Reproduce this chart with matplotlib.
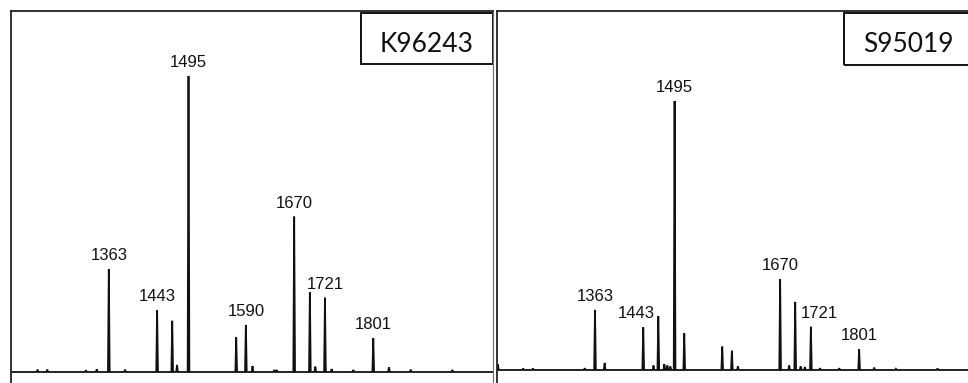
import matplotlib
matplotlib.use("Agg")
import matplotlib.pyplot as plt
from matplotlib.patches import Rectangle
import numpy as np

# sample names
names = ["K96243", "S95019"]

# peak lists (m/z, intensity)
k_mz = [1245, 1261, 1325, 1343, 1363, 1390, 1443, 1468, 1476, 1495, 1574, 1590,
        1601, 1637, 1641, 1670, 1696, 1705, 1721, 1732, 1768, 1801, 1827, 1863, 1932]
k_int = [0.8, 0.8, 0.6, 0.9, 34.8, 0.8, 20.9, 17.3, 2.4, 100, 11.7, 15.9,
         2.0, 0.7, 0.7, 52.5, 26.9, 1.8, 25.1, 1.0, 0.7, 11.4, 1.6, 0.8, 0.7]

s_mz = [1202, 1244, 1260, 1346, 1363, 1379, 1443, 1460, 1468, 1478, 1483, 1488,
        1495, 1511, 1574, 1590, 1600, 1670, 1685, 1695, 1704, 1711, 1721, 1736,
        1768, 1801, 1826, 1862, 1931]
s_int = [2.0, 0.5, 0.5, 0.6, 20.3, 2.4, 14.4, 1.5, 18.2, 2.0, 1.5, 1.2,
         90.9, 12.4, 7.9, 6.5, 1.2, 30.6, 1.5, 23.0, 1.2, 1.0, 14.6, 0.6,
         0.6, 7.0, 0.8, 0.4, 0.5]

# labelled peaks
k_labels = [1363, 1443, 1495, 1590, 1670, 1721, 1801]
s_labels = [1363, 1443, 1495, 1670, 1721, 1801]

W, H = 968, 383
fig = plt.figure(figsize=(W / 100, H / 100), dpi=100)
ax1 = fig.add_axes([11 / W, 0, (493 - 11) / W, (383 - 11) / H])
ax2 = fig.add_axes([497 / W, 0, (969 - 497) / W, (383 - 11) / H])


def draw_spectrum(ax, mz, inten, labels, xlim, ylim, nudge):
    # each peak drawn as a narrow triangle on a flat baseline
    hw = 1.4
    xs = [xlim[0]]
    ys = [0]
    for m, h in zip(mz, inten):
        xs += [m - hw, m, m + hw]
        ys += [0, h, 0]
    xs.append(xlim[1])
    ys.append(0)
    ax.plot(xs, ys, color="#111111", lw=1.3, solid_joinstyle="miter")

    lookup = dict(zip(mz, inten))
    for m in labels:
        dx = nudge.get(m, 0)
        ax.annotate(str(m), xy=(m, lookup[m]), xytext=(dx, 6.5),
                    textcoords="offset points", ha="center", va="baseline",
                    fontsize=12, family="Liberation Sans", color="#111111")

    ax.set_xlim(*xlim)
    ax.set_ylim(*ylim)
    ax.set_xticks([])
    ax.set_yticks([])
    ax.spines["bottom"].set_visible(False)
    for s in ["top", "left"]:
        ax.spines[s].set_color("#222222")
        ax.spines[s].set_linewidth(1.3)


draw_spectrum(ax1, k_mz, k_int, k_labels, (1201, 1999.3), (-3.72, 121.96), {})
draw_spectrum(ax2, s_mz, s_int, s_labels, (1200.5, 1983.2), (-4.4, 121.3),
              {1443: -5, 1721: 6})

ax1.spines["right"].set_color("#777777")
ax1.spines["right"].set_linewidth(0.9)
ax2.spines["right"].set_visible(False)

# sample name boxes
ax1.add_patch(Rectangle((0.726, 0.8575), 0.274, 0.137, transform=ax1.transAxes,
                        fill=False, lw=1.4, ec="#111111", clip_on=False))
ax1.text(0.862, 0.8898, names[0], transform=ax1.transAxes, ha="center",
         va="baseline", fontsize=19, family="Lato", color="#111111")

ax2.add_patch(Rectangle((0.735, 0.8548), 0.3, 0.14, transform=ax2.transAxes,
                        fill=False, lw=1.4, ec="#111111", clip_on=False))
ax2.text(0.8714, 0.8898, names[1], transform=ax2.transAxes, ha="center",
         va="baseline", fontsize=19, family="Lato", color="#111111")

fig.savefig("out.png", dpi=100)
